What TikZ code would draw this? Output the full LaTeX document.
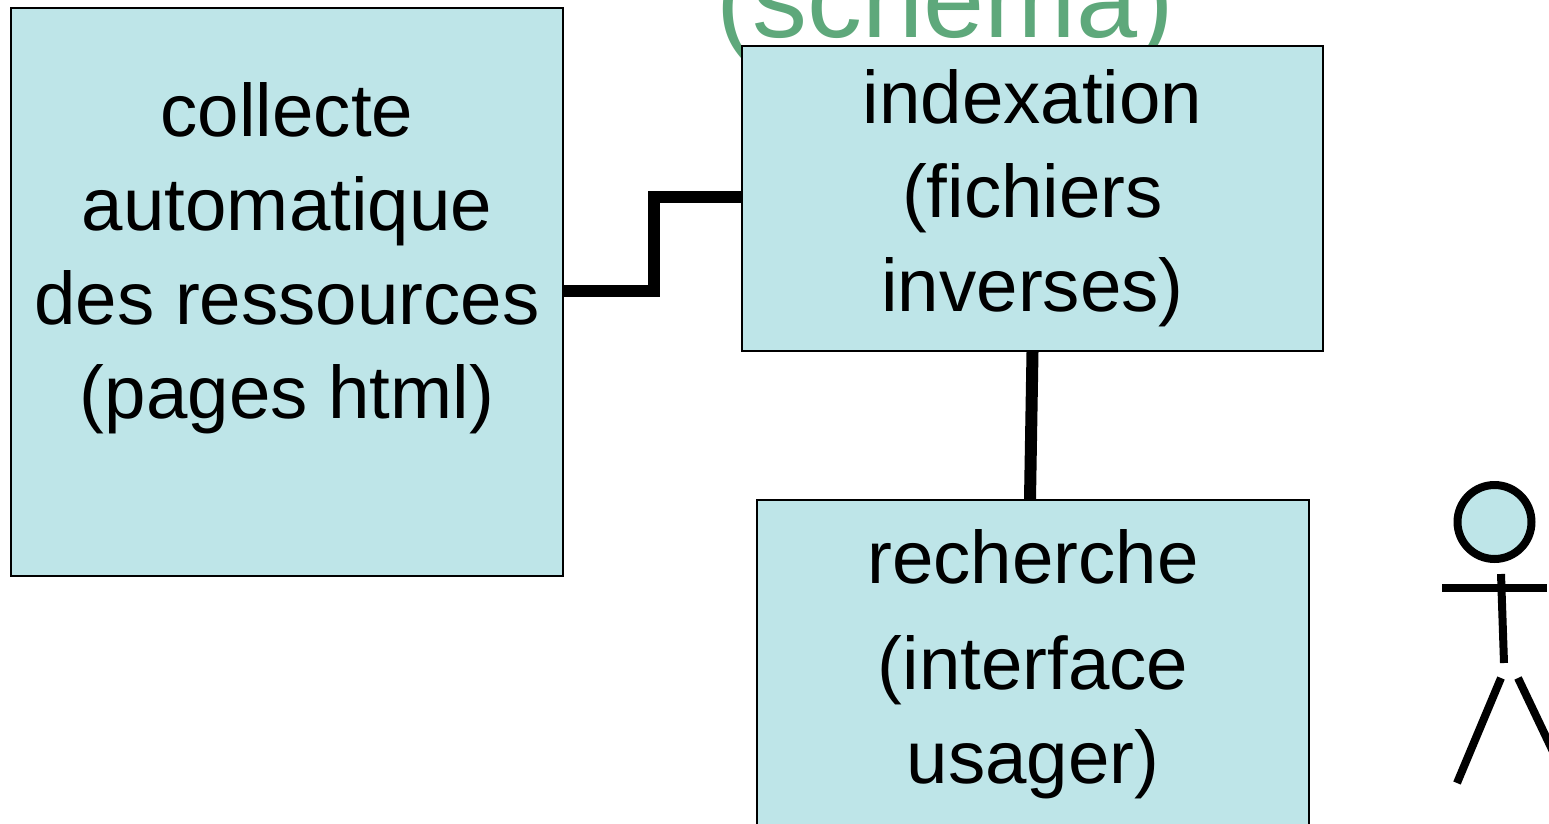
\documentclass[tikz,border=0pt]{standalone}
\usepackage{fontspec}
\setmainfont{Liberation Sans}
\definecolor{boitefond}{HTML}{BEE5E8}
\definecolor{titrevert}{HTML}{5EA87B}
\tikzset{
	boite/.style={draw=black, line width=1.14pt, fill=boitefond, rectangle, align=center, inner sep=0pt,
		font=\fontsize{42.4pt}{53.5pt}\selectfont},
	liaison/.style={line width=6.83pt},
	trait/.style={line width=4.55pt}
}
\begin{document}
\begin{tikzpicture}[x=0.02cm, y=-0.02cm]
	
	\path[use as bounding box, clip] (0,0) rectangle (1549,823);
	
	% Titre, coupe par le haut
	\node (titre) [anchor=base, text=titrevert, font=\fontsize{62.5pt}{70pt}\selectfont] at (945,37) {(schema)};
	
	% Collecte-Block
	\node (collecte) [boite, minimum width=11.04cm, minimum height=11.36cm] at (287,292)
		{collecte\\automatique\\des ressources\\(pages html)\\[-5.7pt]\mbox{}};
	
	% Indexation-Block
	\node (indexation) [boite, minimum width=11.62cm, minimum height=6.1cm] at (1032.5,198.5)
		{indexation\\(fichiers\\inverses)};
	
	% Recherche-Block
	\node (recherche) [boite, minimum width=11.04cm, minimum height=6.56cm] at (1033,664)
		{recherche\\[7pt](interface\\usager)};
	
	% Liaisons
	\draw[liaison] ([yshift=0.02cm]collecte.east) -- ++(89.7,0) |- ([yshift=0.036cm]indexation.west);
	\draw[liaison] (indexation.south) -- ([xshift=-0.06cm]recherche.north);
	
	% Usager
	\node (tete) [draw=black, line width=4.55pt, fill=boitefond, circle, minimum size=1.48cm, inner sep=0pt] at (1494.5,522) {};
	\coordinate (bras-g) at (1442,588);
	\coordinate (bras-d) at (1547,588);
	\coordinate (cou) at (1501,574);
	\coordinate (bassin) at (1504,663);
	\coordinate (jambe-g) at (1501,678);
	\coordinate (pied-g) at (1457,783);
	\coordinate (jambe-d) at (1518,678);
	\coordinate (pied-d) at (1568,783);
	\draw[trait] (bras-g) -- (bras-d);
	\draw[trait] (cou) -- (bassin);
	\draw[trait] (jambe-g) -- (pied-g);
	\draw[trait] (jambe-d) -- (pied-d);
	
\end{tikzpicture}
\end{document}
